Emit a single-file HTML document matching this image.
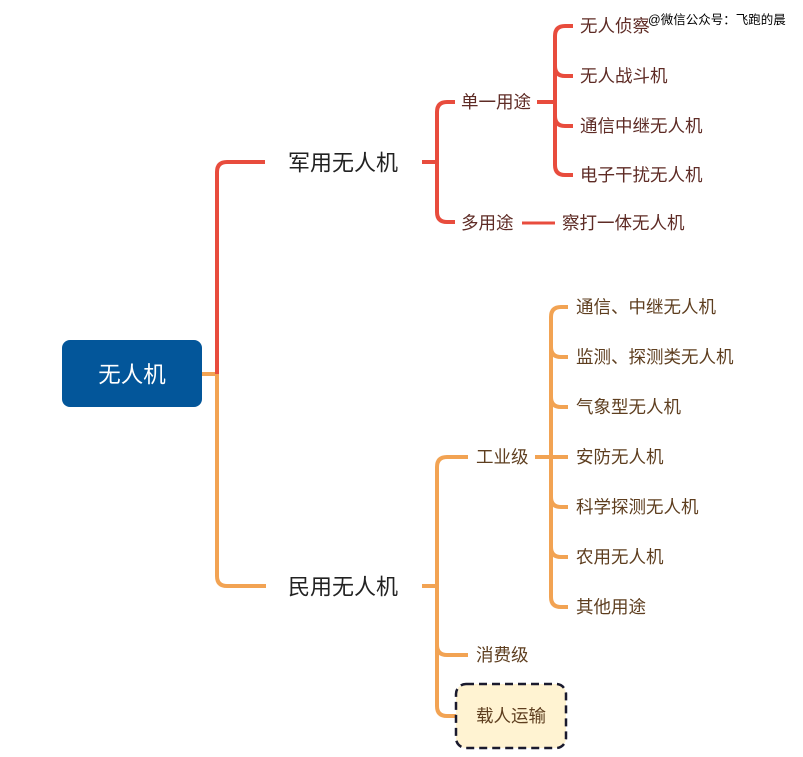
<!DOCTYPE html>
<html><head><meta charset="utf-8"><style>
html,body{margin:0;padding:0;background:#fff;}
svg{display:block;}
text{font-family:"Liberation Sans","Noto Sans CJK SC",sans-serif;dominant-baseline:central;}
.r{fill:#5e2b25;font-size:17.5px;}
.o{fill:#5e3e1f;font-size:17.5px;}
</style></head><body>
<svg width="803" height="757" viewBox="0 0 803 757" xmlns="http://www.w3.org/2000/svg">
<g fill="none" stroke-width="4" stroke-linecap="butt">
<path d="M202 374 H218" stroke="#f2a353"/>
<path d="M217 374 V172 Q217 162 227 162 H265" stroke="#e84c3d"/>
<path d="M217 374 V576 Q217 586 227 586 H266" stroke="#f2a353"/>
<path d="M422 162 H437" stroke="#e84c3d"/>
<path d="M455 102 H447 Q437 102 437 112 V212 Q437 222 447 222 H455" stroke="#e84c3d"/>
<path d="M537 102 H556" stroke="#e84c3d"/>
<path d="M573 26 H565 Q555 26 555 36 V165 Q555 175 565 175 H573" stroke="#e84c3d"/>
<path d="M555 66 Q555 76 565 76 H573 M555 116 Q555 126 565 126 H573" stroke="#e84c3d"/>
<path d="M522 223 H555" stroke="#e84c3d" stroke-width="3"/>
<path d="M422 586 H437" stroke="#f2a353"/>
<path d="M468 457 H447 Q437 457 437 467 V706 Q437 716 447 716 H458" stroke="#f2a353"/>
<path d="M437 645 Q437 655 447 655 H468" stroke="#f2a353"/>
<path d="M535 457 H568" stroke="#f2a353"/>
<path d="M568 307 H561 Q551 307 551 317 V597 Q551 607 561 607 H568" stroke="#f2a353"/>
<path d="M551 347 Q551 357 561 357 H568 M551 397 Q551 407 561 407 H568 M551 497 Q551 507 561 507 H568 M551 547 Q551 557 561 557 H568" stroke="#f2a353"/>
</g>
<rect x="62" y="340" width="140" height="67" rx="8" fill="#03569a"/>
<text x="132" y="375" fill="#fff" font-size="22.5" text-anchor="middle">无人机</text>
<text x="288" y="163" fill="#222" font-size="22">军用无人机</text>
<text x="288" y="587" fill="#222" font-size="22">民用无人机</text>
<text class="r" x="461" y="102">单一用途</text>
<text class="r" x="461" y="223">多用途</text>
<text class="r" x="580" y="26">无人侦察</text>
<text class="r" x="580" y="76">无人战斗机</text>
<text class="r" x="580" y="126">通信中继无人机</text>
<text class="r" x="580" y="175">电子干扰无人机</text>
<text class="r" x="562" y="223">察打一体无人机</text>
<text class="o" x="476" y="457">工业级</text>
<text class="o" x="476" y="655">消费级</text>
<rect x="456" y="684" width="110" height="64" rx="10" fill="#fff3d2" stroke="#1a1a2e" stroke-width="2.5" stroke-dasharray="8 5"/>
<text class="o" x="476" y="716">载人运输</text>
<text class="o" x="576" y="307">通信、中继无人机</text>
<text class="o" x="576" y="357">监测、探测类无人机</text>
<text class="o" x="576" y="407">气象型无人机</text>
<text class="o" x="576" y="457">安防无人机</text>
<text class="o" x="576" y="507">科学探测无人机</text>
<text class="o" x="576" y="557">农用无人机</text>
<text class="o" x="576" y="607">其他用途</text>
<text x="648" y="20" font-size="12.5" fill="#000" stroke="#fff" stroke-width="2" paint-order="stroke">@微信公众号：飞跑的晨</text>
</svg>
</body></html>
